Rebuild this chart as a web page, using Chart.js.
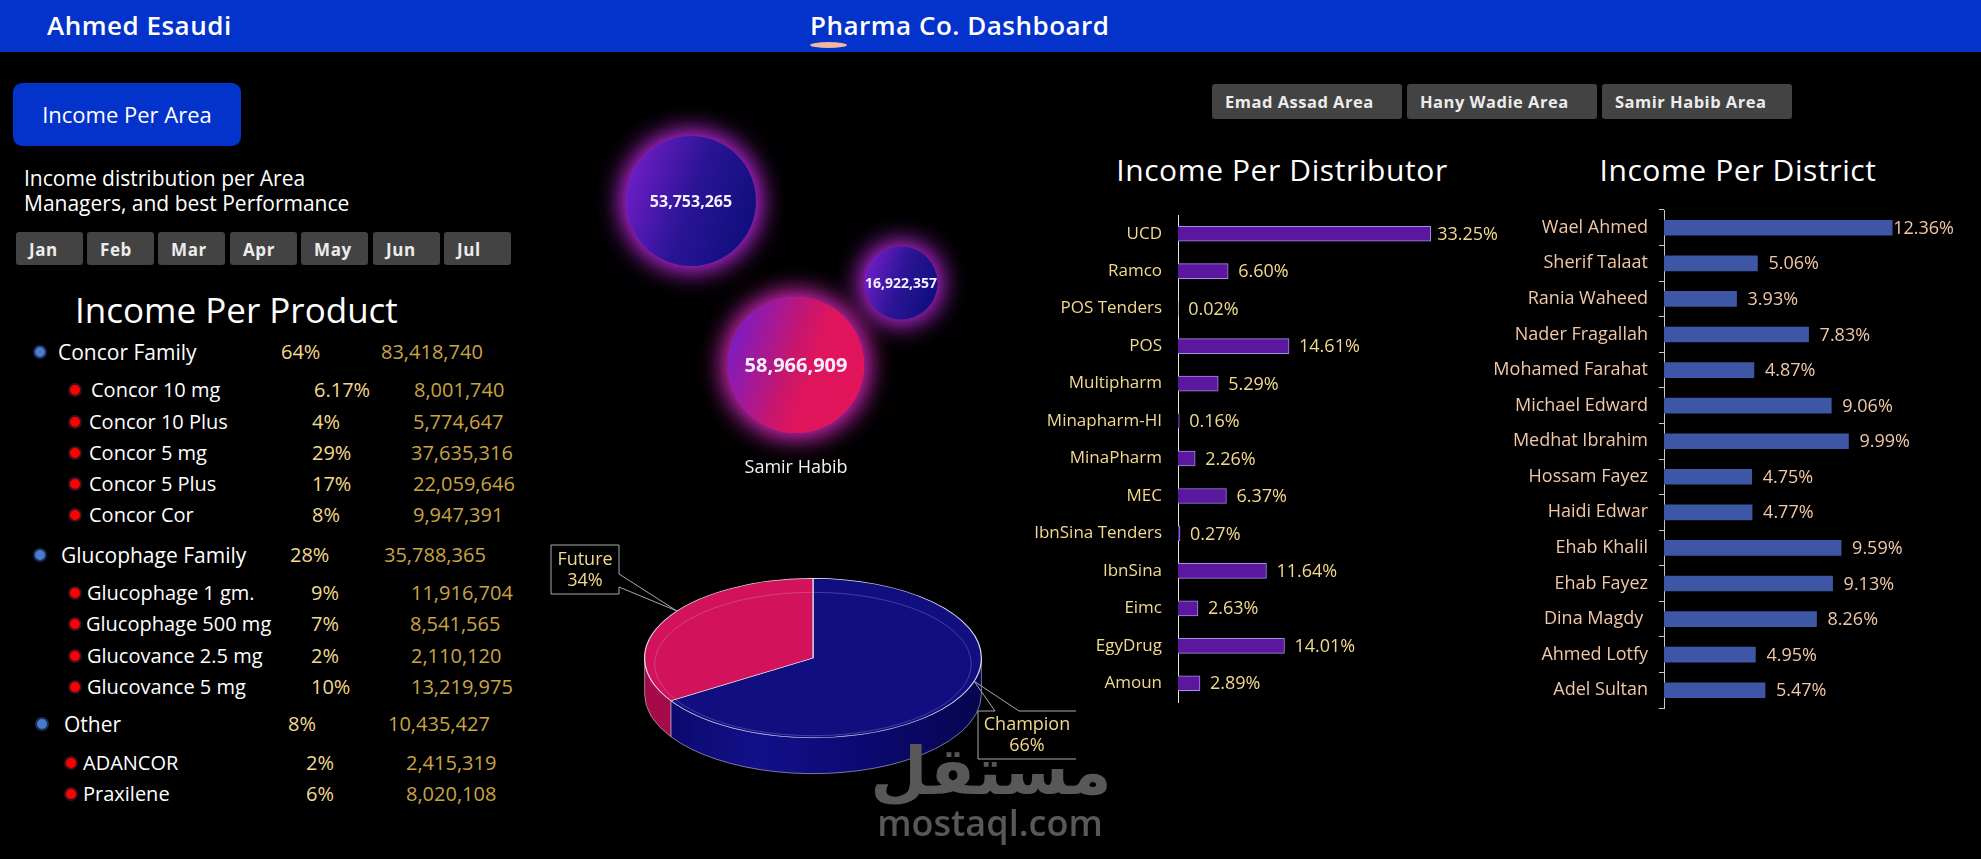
<!DOCTYPE html>
<html><head><meta charset="utf-8">
<script src="https://cdn.jsdelivr.net/npm/chart.js@4.4.1/dist/chart.umd.min.js"></script>
<style>
html,body{margin:0;padding:0;background:#000;}
#root{position:relative;width:1981px;height:859px;overflow:hidden;background:#000;font-family:"Open Sans",sans-serif;}
.t{position:absolute;white-space:nowrap;line-height:1;transform:translateY(-50%);}
.c{transform:translate(-50%,-50%);}
.box{position:absolute;box-sizing:border-box;}
canvas{position:absolute;}
</style></head><body><div id="root"></div>
<script>
// ---------------- DATA ----------------
const userName = 'Ahmed Esaudi';
const dashboardTitle = 'Pharma Co. Dashboard';
const areaPanelTitle = 'Income Per Area';
const areaPanelText = ['Income distribution per Area', 'Managers, and best Performance'];
const months = ['Jan', 'Feb', 'Mar', 'Apr', 'May', 'Jun', 'Jul'];
const areaButtons = ['Emad Assad Area', 'Hany Wadie Area', 'Samir Habib Area'];

const familyNames = ['Concor Family', 'Glucophage Family', 'Other'];
const familyShares = ['64%', '28%', '8%'];
const familyIncome = ['83,418,740', '35,788,365', '10,435,427'];

const productNames = ['Concor 10 mg', 'Concor 10 Plus', 'Concor 5 mg', 'Concor 5 Plus', 'Concor Cor',
  'Glucophage 1 gm.', 'Glucophage 500 mg', 'Glucovance 2.5 mg', 'Glucovance 5 mg', 'ADANCOR', 'Praxilene'];
const productShares = ['6.17%', '4%', '29%', '17%', '8%', '9%', '7%', '2%', '10%', '2%', '6%'];
const productIncome = ['8,001,740', '5,774,647', '37,635,316', '22,059,646', '9,947,391',
  '11,916,704', '8,541,565', '2,110,120', '13,219,975', '2,415,319', '8,020,108'];

const distributorLabels = ['UCD', 'Ramco', 'POS Tenders', 'POS', 'Multipharm', 'Minapharm-HI', 'MinaPharm',
  'MEC', 'IbnSina Tenders', 'IbnSina', 'Eimc', 'EgyDrug', 'Amoun'];
const distributorShares = [33.25, 6.60, 0.02, 14.61, 5.29, 0.16, 2.26, 6.37, 0.27, 11.64, 2.63, 14.01, 2.89];

const districtLabels = ['Wael Ahmed', 'Sherif Talaat', 'Rania Waheed', 'Nader Fragallah', 'Mohamed Farahat',
  'Michael Edward', 'Medhat Ibrahim', 'Hossam Fayez', 'Haidi Edwar', 'Ehab Khalil', 'Ehab Fayez',
  'Dina Magdy ', 'Ahmed Lotfy', 'Adel Sultan'];
const districtShares = [12.36, 5.06, 3.93, 7.83, 4.87, 9.06, 9.99, 4.75, 4.77, 9.59, 9.13, 8.26, 4.95, 5.47];

const areaIncome = [53753265, 16922357, 58966909];
const areaX = [1, 3, 2];
const areaY = [3, 2, 1];
const areaCaption = ['', '', 'Samir Habib'];

const segmentLabels = ['Champion', 'Future'];
const segmentShares = [66, 34];

const titles = ['Income Per Product', 'Income Per Distributor', 'Income Per District'];

// ---------------- LAYOUT HELPERS ----------------
const root = document.getElementById('root');
function box(x, y, w, h, st) {
  const d = document.createElement('div'); d.className = 'box';
  Object.assign(d.style, {left: x + 'px', top: y + 'px', width: w + 'px', height: h + 'px'}, st || {});
  root.appendChild(d); return d;
}
function text(s, x, y, st, centered) {
  const d = document.createElement('div'); d.className = 't' + (centered ? ' c' : '');
  d.textContent = s;
  Object.assign(d.style, {left: x + 'px', top: y + 'px'}, st || {});
  root.appendChild(d); return d;
}
function canvas(x, y, w, h) {
  const c = document.createElement('canvas');
  c.width = w; c.height = h;
  Object.assign(c.style, {left: x + 'px', top: y + 'px', width: w + 'px', height: h + 'px'});
  root.appendChild(c); return c;
}

// header
box(0, 0, 1981, 52, {background: '#0433cc'});
text(userName, 47, 25, {color: '#fff', fontSize: '26px', fontWeight: 600, letterSpacing: '0.5px'});
text(dashboardTitle, 810, 25, {color: '#fff', fontSize: '26px', fontWeight: 600, letterSpacing: '0.5px'});
box(810, 42, 37, 6, {background: '#f0b8a0', borderRadius: '50%'});

// left panel
box(13, 83, 228, 63, {background: '#0433cc', borderRadius: '9px'});
text(areaPanelTitle, 127, 114, {color: '#fff', fontSize: '22px'}, true);
text(areaPanelText[0], 24, 178, {color: '#fff', fontSize: '21px'});
text(areaPanelText[1], 24, 203, {color: '#fff', fontSize: '21px'});
const monthX = [16, 87, 158, 230, 301, 373, 444];
months.forEach((m, i) => {
  box(monthX[i], 232, 67, 33, {background: '#434343', borderRadius: '3px'});
  text(m, monthX[i] + 13, 249, {color: '#ececec', fontSize: '17px', fontWeight: 700, letterSpacing: '0.6px'});
});

text(titles[0], 75, 309, {color: '#fff', fontSize: '35px'});
const famLayout = [
  {y: 352, dot: 40, name: 58, pct: 281, val: 381},
  {y: 555, dot: 40, name: 61, pct: 290, val: 384},
  {y: 724, dot: 42, name: 64, pct: 288, val: 388}];
familyNames.forEach((n, i) => {
  const L = famLayout[i];
  box(L.dot - 7, L.y - 7, 14, 14, {background: '#4a7bcf', border: '2px solid #1c2e55', borderRadius: '50%'});
  text(n, L.name, L.y, {color: '#fff', fontSize: '21px'});
  text(familyShares[i], L.pct, L.y, {color: '#f3d98d', fontSize: '20px'});
  text(familyIncome[i], L.val, L.y, {color: '#c9a443', fontSize: '20px'});
});
const prodY = [390, 422, 453, 484, 515, 593, 624, 656, 687, 763, 794];
const prodDot = [75, 75, 75, 75, 75, 75, 75, 75, 75, 71, 71];
const prodName = [91, 89, 89, 89, 89, 87, 86, 87, 87, 83, 83];
const prodPct = [314, 312, 312, 312, 312, 311, 311, 311, 311, 306, 306];
const prodVal = [414, 413, 411, 413, 413, 411, 410, 411, 411, 406, 406];
productNames.forEach((n, i) => {
  box(prodDot[i] - 7, prodY[i] - 7, 14, 14, {background: '#f00', border: '2px solid #3a1020', borderRadius: '50%'});
  text(n, prodName[i], prodY[i], {color: '#fff', fontSize: '20px'});
  text(productShares[i], prodPct[i], prodY[i], {color: '#f3d98d', fontSize: '20px'});
  text(productIncome[i], prodVal[i], prodY[i], {color: '#c9a443', fontSize: '20px'});
});

// right top buttons & titles
const btnX = [1212, 1407, 1602];
areaButtons.forEach((b, i) => {
  box(btnX[i], 84, 190, 35, {background: '#434343', borderRadius: '3px'});
  text(b, btnX[i] + 13, 102, {color: '#ececec', fontSize: '16.5px', fontWeight: 700, letterSpacing: '0.5px'});
});
text(titles[1], 1282, 170, {color: '#fff', fontSize: '30px', letterSpacing: '0.6px'}, true);
text(titles[2], 1738, 170, {color: '#fff', fontSize: '30px', letterSpacing: '0.6px'}, true);

// ---------------- CHARTS ----------------
Chart.defaults.font.family = '"Open Sans", sans-serif';
Chart.defaults.devicePixelRatio = 1;

const valueLabels = {
  id: 'valueLabels',
  afterDatasetsDraw(chart, args, o) {
    const ctx = chart.ctx, meta = chart.getDatasetMeta(0), vals = chart.data.datasets[0].data;
    ctx.save();
    ctx.font = o.size + 'px "Open Sans"'; ctx.fillStyle = o.color;
    ctx.textBaseline = 'middle'; ctx.textAlign = 'left';
    meta.data.forEach((bar, i) => {
      const s = vals[i].toFixed(2) + '%';
      const w = ctx.measureText(s).width;
      let x = bar.x + o.offset;
      if (x + w > chart.width - o.margin) x = chart.width - o.margin - w;
      ctx.fillText(s, x, bar.y + 1);
    });
    ctx.restore();
  }
};

// distributor bars
new Chart(canvas(1000, 200, 500, 515), {
  type: 'bar',
  data: {labels: distributorLabels, datasets: [{data: distributorShares, backgroundColor: '#5c179f',
    borderColor: '#a68ce2', borderWidth: 1, barThickness: 15}]},
  options: {
    indexAxis: 'y', responsive: false, animation: false,
    layout: {padding: {left: 0, right: 18, top: 15, bottom: 13}},
    plugins: {legend: {display: false}, tooltip: {enabled: false},
      valueLabels: {size: 18, color: '#f3d98d', offset: 10, margin: 2}},
    scales: {
      x: {display: false, min: 0, max: 40},
      y: {grid: {display: false, drawTicks: false}, border: {display: true, color: '#e4e4e4', width: 1},
        ticks: {color: '#f3d98d', font: {size: 17}, padding: 16},
        afterFit(s) { s.width = 178; s.paddingTop = 0; s.paddingBottom = 0; }}
    }
  },
  plugins: [valueLabels]
});

// district bars
new Chart(canvas(1470, 195, 486, 525), {
  type: 'bar',
  data: {labels: districtLabels, datasets: [{data: districtShares, backgroundColor: '#3d57a6', barThickness: 15}]},
  options: {
    indexAxis: 'y', responsive: false, animation: false,
    layout: {padding: {left: 0, right: 15, top: 15, bottom: 12}},
    plugins: {legend: {display: false}, tooltip: {enabled: false},
      valueLabels: {size: 18, color: '#f1c7a6', offset: 11, margin: 2}},
    scales: {
      x: {display: false, min: 0, max: 15},
      y: {grid: {display: true, drawOnChartArea: false, drawTicks: true, tickLength: 5, color: '#c8c8c8', offset: true},
        border: {display: true, color: '#c8c8c8', width: 1},
        ticks: {color: '#f1c7a6', font: {size: 18}, padding: 11},
        afterFit(s) { s.width = 194; s.paddingTop = 0; s.paddingBottom = 0; }}
    }
  },
  plugins: [valueLabels]
});

// bubbles
const bubbleMaxR = 68;
const maxIncome = Math.max(...areaIncome);
const bubbleDraw = {
  id: 'bubbleDraw',
  afterDatasetsDraw(chart) {
    const ctx = chart.ctx, meta = chart.getDatasetMeta(0);
    meta.data.forEach((pt, i) => {
      const x = pt.x, y = pt.y, r = pt.options.radius;
      const hl = areaCaption[i] !== '';
      let g = ctx.createLinearGradient(x - r, y - r * 0.35, x + r, y + r * 0.35);
      if (hl) {
        g.addColorStop(0, '#7a1cc6'); g.addColorStop(0.45, '#c6166f');
        g.addColorStop(0.62, '#df155c'); g.addColorStop(1, '#e2145a');
      } else {
        g.addColorStop(0, '#6f1ec6'); g.addColorStop(0.5, '#2a1495'); g.addColorStop(1, '#0e0e7c');
      }
      ctx.save();
      ctx.shadowColor = hl ? 'rgba(215,40,190,0.95)' : 'rgba(190,40,225,0.95)';
      ctx.shadowBlur = 28;
      for (let k = 0; k < 2; k++) {
        ctx.beginPath(); ctx.arc(x, y, r, 0, Math.PI * 2); ctx.fillStyle = g; ctx.fill();
      }
      ctx.restore();
      ctx.save();
      const fs = hl ? 20 : (r > 50 ? 16 : 14);
      ctx.font = '700 ' + fs + 'px "Open Sans"';
      ctx.fillStyle = '#f6eeff'; ctx.textAlign = 'center'; ctx.textBaseline = 'middle';
      ctx.fillText(areaIncome[i].toLocaleString('en-US'), x, y + 1);
      if (areaCaption[i]) {
        ctx.font = '18px "Open Sans"'; ctx.fillStyle = '#f2f2f2';
        ctx.fillText(areaCaption[i], x, y + r + 35);
      }
      ctx.restore();
    });
  }
};
new Chart(canvas(516, 49, 560, 468), {
  type: 'bubble',
  data: {datasets: [{
    data: areaIncome.map((v, i) => ({x: areaX[i], y: areaY[i], r: bubbleMaxR * Math.sqrt(v / maxIncome)})),
    backgroundColor: 'rgba(0,0,0,0)', borderWidth: 0, hoverRadius: 0, clip: false}]},
  options: {
    responsive: false, animation: false,
    layout: {padding: 70},
    scales: {x: {display: false, min: 0, max: 4}, y: {display: false, min: 0, max: 4}},
    plugins: {legend: {display: false}, tooltip: {enabled: false}}
  },
  plugins: [bubbleDraw]
});

// 3D pie
function frontParts(s, e) {
  const out = [];
  [-2 * Math.PI, 0, 2 * Math.PI].forEach(n => {
    const a = Math.max(s, n), b = Math.min(e, n + Math.PI);
    if (b > a) out.push([a, b]);
  });
  return out;
}
const pie3d = {
  id: 'pie3d',
  beforeDatasetsDraw(chart, args, o) {
    const ctx = chart.ctx, arcs = chart.getDatasetMeta(0).data;
    const cx = arcs[0].x, cy = arcs[0].y, R = arcs[0].outerRadius;
    const ty = cy + o.shift, k = o.tilt, d = o.depth;
    ctx.save();
    arcs.forEach((arc, i) => {
      frontParts(arc.startAngle, arc.endAngle).forEach(([a, b]) => {
        ctx.beginPath();
        ctx.ellipse(cx, ty, R, R * k, 0, a, b, false);
        ctx.ellipse(cx, ty + d, R, R * k, 0, b, a, true);
        ctx.closePath();
        const g = ctx.createLinearGradient(cx - R, 0, cx + R, 0);
        o.walls[i].forEach((c, j, arr) => g.addColorStop(j / (arr.length - 1), c));
        ctx.fillStyle = g; ctx.fill();
        ctx.strokeStyle = 'rgba(215,205,245,0.55)'; ctx.lineWidth = 1; ctx.stroke();
      });
    });
    ctx.restore();
    ctx.save();
    ctx.translate(0, ty); ctx.scale(1, k); ctx.translate(0, -cy);
  },
  afterDatasetsDraw(chart, args, o) {
    const ctx = chart.ctx;
    ctx.restore();
    const arcs = chart.getDatasetMeta(0).data;
    const cx = arcs[0].x, cy = arcs[0].y, R = arcs[0].outerRadius;
    const ty = cy + o.shift, k = o.tilt;
    ctx.save();
    ctx.beginPath(); ctx.ellipse(cx, ty + 6, R * 0.94, R * k * 0.9, 0, 0, Math.PI * 2);
    ctx.strokeStyle = 'rgba(210,200,240,0.25)'; ctx.lineWidth = 1; ctx.stroke();
    ctx.restore();
    ctx.save();
    ctx.strokeStyle = '#a9a9a9'; ctx.lineWidth = 1;
    ctx.font = '18px "Open Sans"'; ctx.fillStyle = '#f3d98d';
    ctx.textAlign = 'center'; ctx.textBaseline = 'middle';
    arcs.forEach((arc, i) => {
      const m = arc.startAngle + (arc.endAngle - arc.startAngle) * o.anchorAt[i];
      const ax = cx + R * Math.cos(m), ay = ty + R * k * Math.sin(m);
      const c = o.callouts[i];
      ctx.beginPath();
      if (c.side === 'right') {
        ctx.moveTo(c.l, c.t); ctx.lineTo(c.r, c.t); ctx.lineTo(c.r, c.p1); ctx.lineTo(ax, ay);
        ctx.lineTo(c.r, c.p2); ctx.lineTo(c.r, c.b); ctx.lineTo(c.l, c.b); ctx.closePath();
      } else {
        ctx.moveTo(c.r, c.t); ctx.lineTo(c.p2, c.t); ctx.lineTo(ax, ay); ctx.lineTo(c.p1, c.t);
        ctx.lineTo(c.l, c.t); ctx.lineTo(c.l, c.b); ctx.lineTo(c.r, c.b);
      }
      ctx.stroke();
      const tx = (c.l + c.r) / 2 + (c.dx || 0);
      ctx.fillText(segmentLabels[i], tx, (c.t + c.b) / 2 - 10);
      ctx.fillText(segmentShares[i] + '%', tx, (c.t + c.b) / 2 + 11);
    });
    ctx.restore();
  }
};
new Chart(canvas(540, 500, 560, 359), {
  type: 'pie',
  data: {labels: segmentLabels, datasets: [{data: segmentShares, backgroundColor: ['#110e80', '#d2125b'],
    borderColor: '#e2ddf2', borderWidth: 1.2}]},
  options: {
    responsive: false, animation: false,
    layout: {padding: {left: 104, right: 118, top: 10, bottom: 11}},
    plugins: {legend: {display: false}, tooltip: {enabled: false},
      pie3d: {shift: -21, tilt: 0.473, depth: 36, anchorAt: [0.45, 0.56],
        walls: [['#0a0864', '#12108a', '#0b0970', '#07054e'], ['#a40b48', '#b80d50']],
        callouts: [
          {side: 'top', l: 438, r: 536, t: 211, b: 259, p1: 455, p2: 479, dx: 0},
          {side: 'right', l: 11, r: 79, t: 45, b: 94, p1: 74, p2: 87, dx: 0}]}}
  },
  plugins: [pie3d]
});

// watermark
text('مستقل', 991, 772, {color: '#585858', fontSize: '66px', fontWeight: 700, fontFamily: '"DejaVu Sans", sans-serif', zIndex: 5}, true);
text('mostaql.com', 990, 823, {color: '#585858', fontSize: '36px', fontWeight: 600, zIndex: 5}, true);
</script></body></html>
